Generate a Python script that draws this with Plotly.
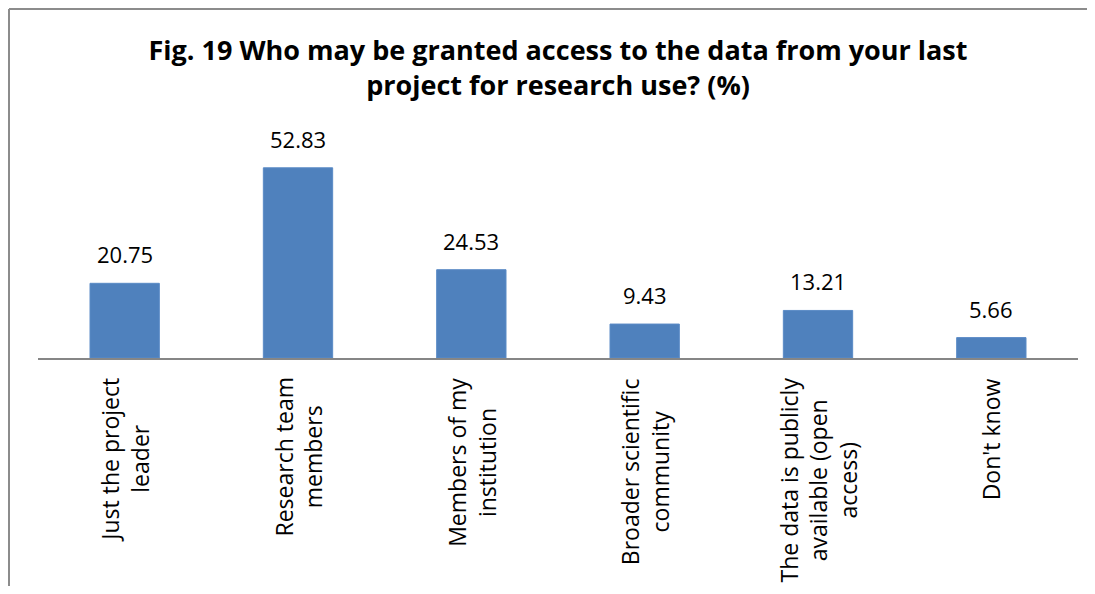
import plotly.graph_objects as go

categories = [
    "Just the project<br>leader",
    "Research team<br>members",
    "Members of my<br>institution",
    "Broader scientific<br>community",
    "The data is publicly<br>available (open<br>access)",
    "Don't know",
]
values = [20.75, 52.83, 24.53, 9.43, 13.21, 5.66]
value_labels = ["20.75", "52.83", "24.53", "9.43", "13.21", "5.66"]
title_text = "Fig. 19 Who may be granted access to the data from your last<br>project for research use? (%)"

FONT = "Open Sans"
# page body has an 8px margin, so the figure is drawn 8px in from the window edges
W, H = 1079, 578
ML, MR, MT, MB = 30, 9, 134, 228
plot_w = W - ML - MR
plot_h = H - MT - MB

fig = go.Figure()
fig.add_trace(go.Bar(
    x=categories,
    y=values,
    width=0.4,
    marker=dict(color="#4F81BD", line=dict(color="#5B8BC6", width=1)),
    hoverinfo="skip",
))

for c, v, t in zip(categories, values, value_labels):
    fig.add_annotation(
        x=c, xref="x", y=v, yref="y",
        text=t, showarrow=False,
        xanchor="center", yanchor="bottom", yshift=12,
        font=dict(family=FONT, size=22, color="#000000"),
    )

for c in categories:
    fig.add_annotation(
        x=c, xref="x",
        y=-(18 / plot_h), yref="paper",
        text=c, textangle=-90,
        showarrow=False, align="center",
        xanchor="center", yanchor="top",
        font=dict(family=FONT, size=23, color="#000000"),
    )

# outer chart frame: only its top and left edges are visible
frame_x0 = (1 - ML) / plot_w
frame_x1 = (W - ML) / plot_w
frame_y1 = (H - MB - 1) / plot_h
frame_y0 = -MB / plot_h
fig.add_shape(type="line", xref="paper", yref="paper",
              x0=frame_x0, x1=frame_x1, y0=frame_y1, y1=frame_y1,
              line=dict(color="#8C8C8C", width=2), layer="below")
fig.add_shape(type="line", xref="paper", yref="paper",
              x0=frame_x0, x1=frame_x0, y0=frame_y1, y1=frame_y0,
              line=dict(color="#8C8C8C", width=2), layer="below")

fig.update_layout(
    width=W, height=H,
    margin=dict(l=ML, r=MR, t=MT, b=MB),
    paper_bgcolor="white",
    plot_bgcolor="white",
    showlegend=False,
    title=dict(
        text="<b>" + title_text + "</b>",
        x=(ML + plot_w / 2) / W, xanchor="center",
        y=1 - 52 / H, yanchor="top",
        font=dict(family=FONT, size=27, color="#000000"),
    ),
    xaxis=dict(
        showticklabels=False,
        showline=True, linecolor="#868686", linewidth=2,
        ticks="", showgrid=False, zeroline=False,
    ),
    yaxis=dict(
        range=[0, 60], visible=False, showgrid=False, zeroline=False,
    ),
)

fig.write_html("out.html")
